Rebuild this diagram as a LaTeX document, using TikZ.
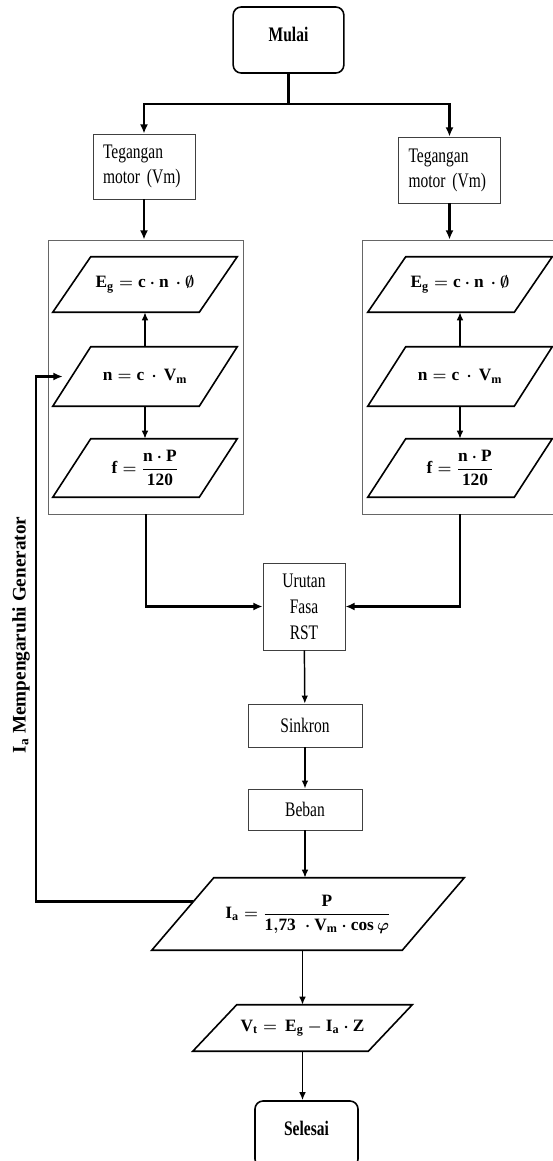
\documentclass[tikz,border=0pt]{standalone}
\usepackage{amsmath, amssymb}
\usepackage{fontspec}
\setmainfont{Liberation Serif}[FakeStretch=0.75]
\setmathrm{Liberation Serif}
\setboldmathrm{Liberation Serif}[UprightFont={* Bold}]
\newfontfamily\sidefont{Liberation Serif}
\usepackage{tikz}
\usetikzlibrary{arrows.meta, calc}

\tikzset{
    terminal/.style={draw, line width=1.2pt, rounded corners=6pt, minimum width=83pt,
        minimum height=49.5pt, text depth=8pt, font=\fontsize{15.5}{18}\selectfont\bfseries},
    proc/.style={draw=black!75, line width=0.6pt, font=\fontsize{15.5}{18.75}\selectfont},
    group/.style={draw=black!60, line width=0.6pt, minimum width=145.7pt, minimum height=205.5pt},
    io/.style={inner sep=0pt, minimum width=138pt, font=\fontsize{13}{16}\selectfont\boldmath},
    ioline/.style={line width=1.2pt, line join=miter},
    link/.style={line width=1.1pt, -{Latex[length=6pt,width=5pt]}},
    bus/.style={line width=2.2pt},
    busarrow/.style={bus, -{Latex[length=7pt,width=6pt]}}
}

\begin{document}
\begin{tikzpicture}[x=0.75pt, y=-0.75pt]
        \useasboundingbox (0,0) rectangle (553,1161);

        \node[terminal] (mulai) at (288.5,40) {Mulai};
        \node[proc, align=left, text width=61.5pt, inner xsep=7.5pt, minimum height=48.75pt] (teg1) at (144,166.5) {Tegangan\\motor (Vm)};
        \node[proc, align=left, text width=61.5pt, inner xsep=7.5pt, minimum height=49.5pt] (teg2) at (449.5,170) {Tegangan\\motor (Vm)};

        \node[group] (grp1) at (146,377) {};
        \node[group] (grp2) at (460,377) {};

        \node[io, minimum height=41.25pt] (eg1) at (145,284.5) {$\mathrm{E_g} = \mathrm{c}\cdot\mathrm{n}\,\cdot\emptyset$};
        \node[io, minimum height=44.25pt] (n1) at (145,376.5) {$\mathrm{n} = \mathrm{c}\,\cdot\,\mathrm{V_m}$};
        \node[io, minimum height=43.5pt] (f1) at (145,468) {$\mathrm{f} = \dfrac{\mathrm{n}\cdot\mathrm{P}}{\mathrm{120}}$};
        \node[io, minimum height=41.25pt] (eg2) at (460,284.5) {$\mathrm{E_g} = \mathrm{c}\cdot\mathrm{n}\,\cdot\emptyset$};
        \node[io, minimum height=44.25pt] (n2) at (460,376.5) {$\mathrm{n} = \mathrm{c}\,\cdot\,\mathrm{V_m}$};
        \node[io, minimum height=43.5pt] (f2) at (460,468) {$\mathrm{f} = \dfrac{\mathrm{n}\cdot\mathrm{P}}{\mathrm{120}}$};

        \node[proc, align=center, minimum width=61.5pt, minimum height=65.25pt, font=\fontsize{15.5}{19.5}\selectfont] (urutan) at (304,606.5) {Urutan\\Fasa\\RST};
        \node[proc, minimum width=85.5pt, minimum height=32.25pt] (sinkron) at (305,725.5) {Sinkron};
        \node[proc, minimum width=85.5pt, minimum height=30.75pt] (beban) at (305,809.5) {Beban};

        \node[io, minimum width=234pt, minimum height=54pt] (ia) at (308,914) {$\mathrm{I_a} = \dfrac{\mathrm{P}}{\mathrm{1{,}73}\;\cdot\mathrm{V_m}\cdot\mathrm{cos}\,\varphi}$};
        \node[io, minimum width=164.25pt, minimum height=34.5pt] (vt) at (302.5,1028) {$\mathrm{V_t} =\,\mathrm{E_g} - \mathrm{I_a}\cdot\mathrm{Z}$};
        \node[terminal, minimum width=77.25pt] (selesai) at (306.5,1134) {Selesai};

        \node[rotate=90, font=\sidefont\fontsize{14.4}{17}\selectfont\bfseries] (side) at (21,635) {I\textsubscript{a} Mempengaruhi Generator};

        % slanted input/output outlines
        \foreach \p/\o in {eg1/38, n1/38, f1/38, eg2/38, n2/38, f2/38, ia/62, vt/44}
            \draw[ioline] ($(\p.north west)+(\o,0)$) -- (\p.north east) -- ($(\p.south east)-(\o,0)$) -- (\p.south west) -- cycle;

        % start and the two motor branches
        \coordinate (split) at (288.5,104);
        \draw[bus] (mulai) -- (split);
        \draw[busarrow] (split) -| (teg1);
        \draw[busarrow] (split) -| (teg2);
        \draw[busarrow] (teg1) -- (teg1 |- grp1.north);
        \draw[busarrow] (teg2) -- (teg2 |- grp2.north);

        \foreach \s in {1,2} {
            \draw[link] (n\s) -- (eg\s);
            \draw[link] (n\s) -- (f\s);
        }

        \draw[busarrow] (grp1.south) |- (urutan);
        \draw[busarrow] (grp2.south) |- (urutan);

        \draw[link] (urutan) -- (sinkron);
        \draw[link] (sinkron) -- (beban);
        \draw[link] (beban.south) -- (beban.south |- ia.north);
        \draw[link] (vt.north |- ia.south) -- (vt.north);
        \draw[link] (vt.south) -- (vt.south |- selesai.north);

        % feedback of the load current
        \coordinate (iatl) at ($(ia.north west)+(62,0)$);
        \coordinate (fbout) at ($(ia.south west)!0.667!(iatl)$);
        \coordinate (fbx) at (36,902);
        \draw[busarrow] (fbout) -- (fbout -| fbx) |- ($(n1.west)+(10,0)$);
    \end{tikzpicture}
\end{document}
